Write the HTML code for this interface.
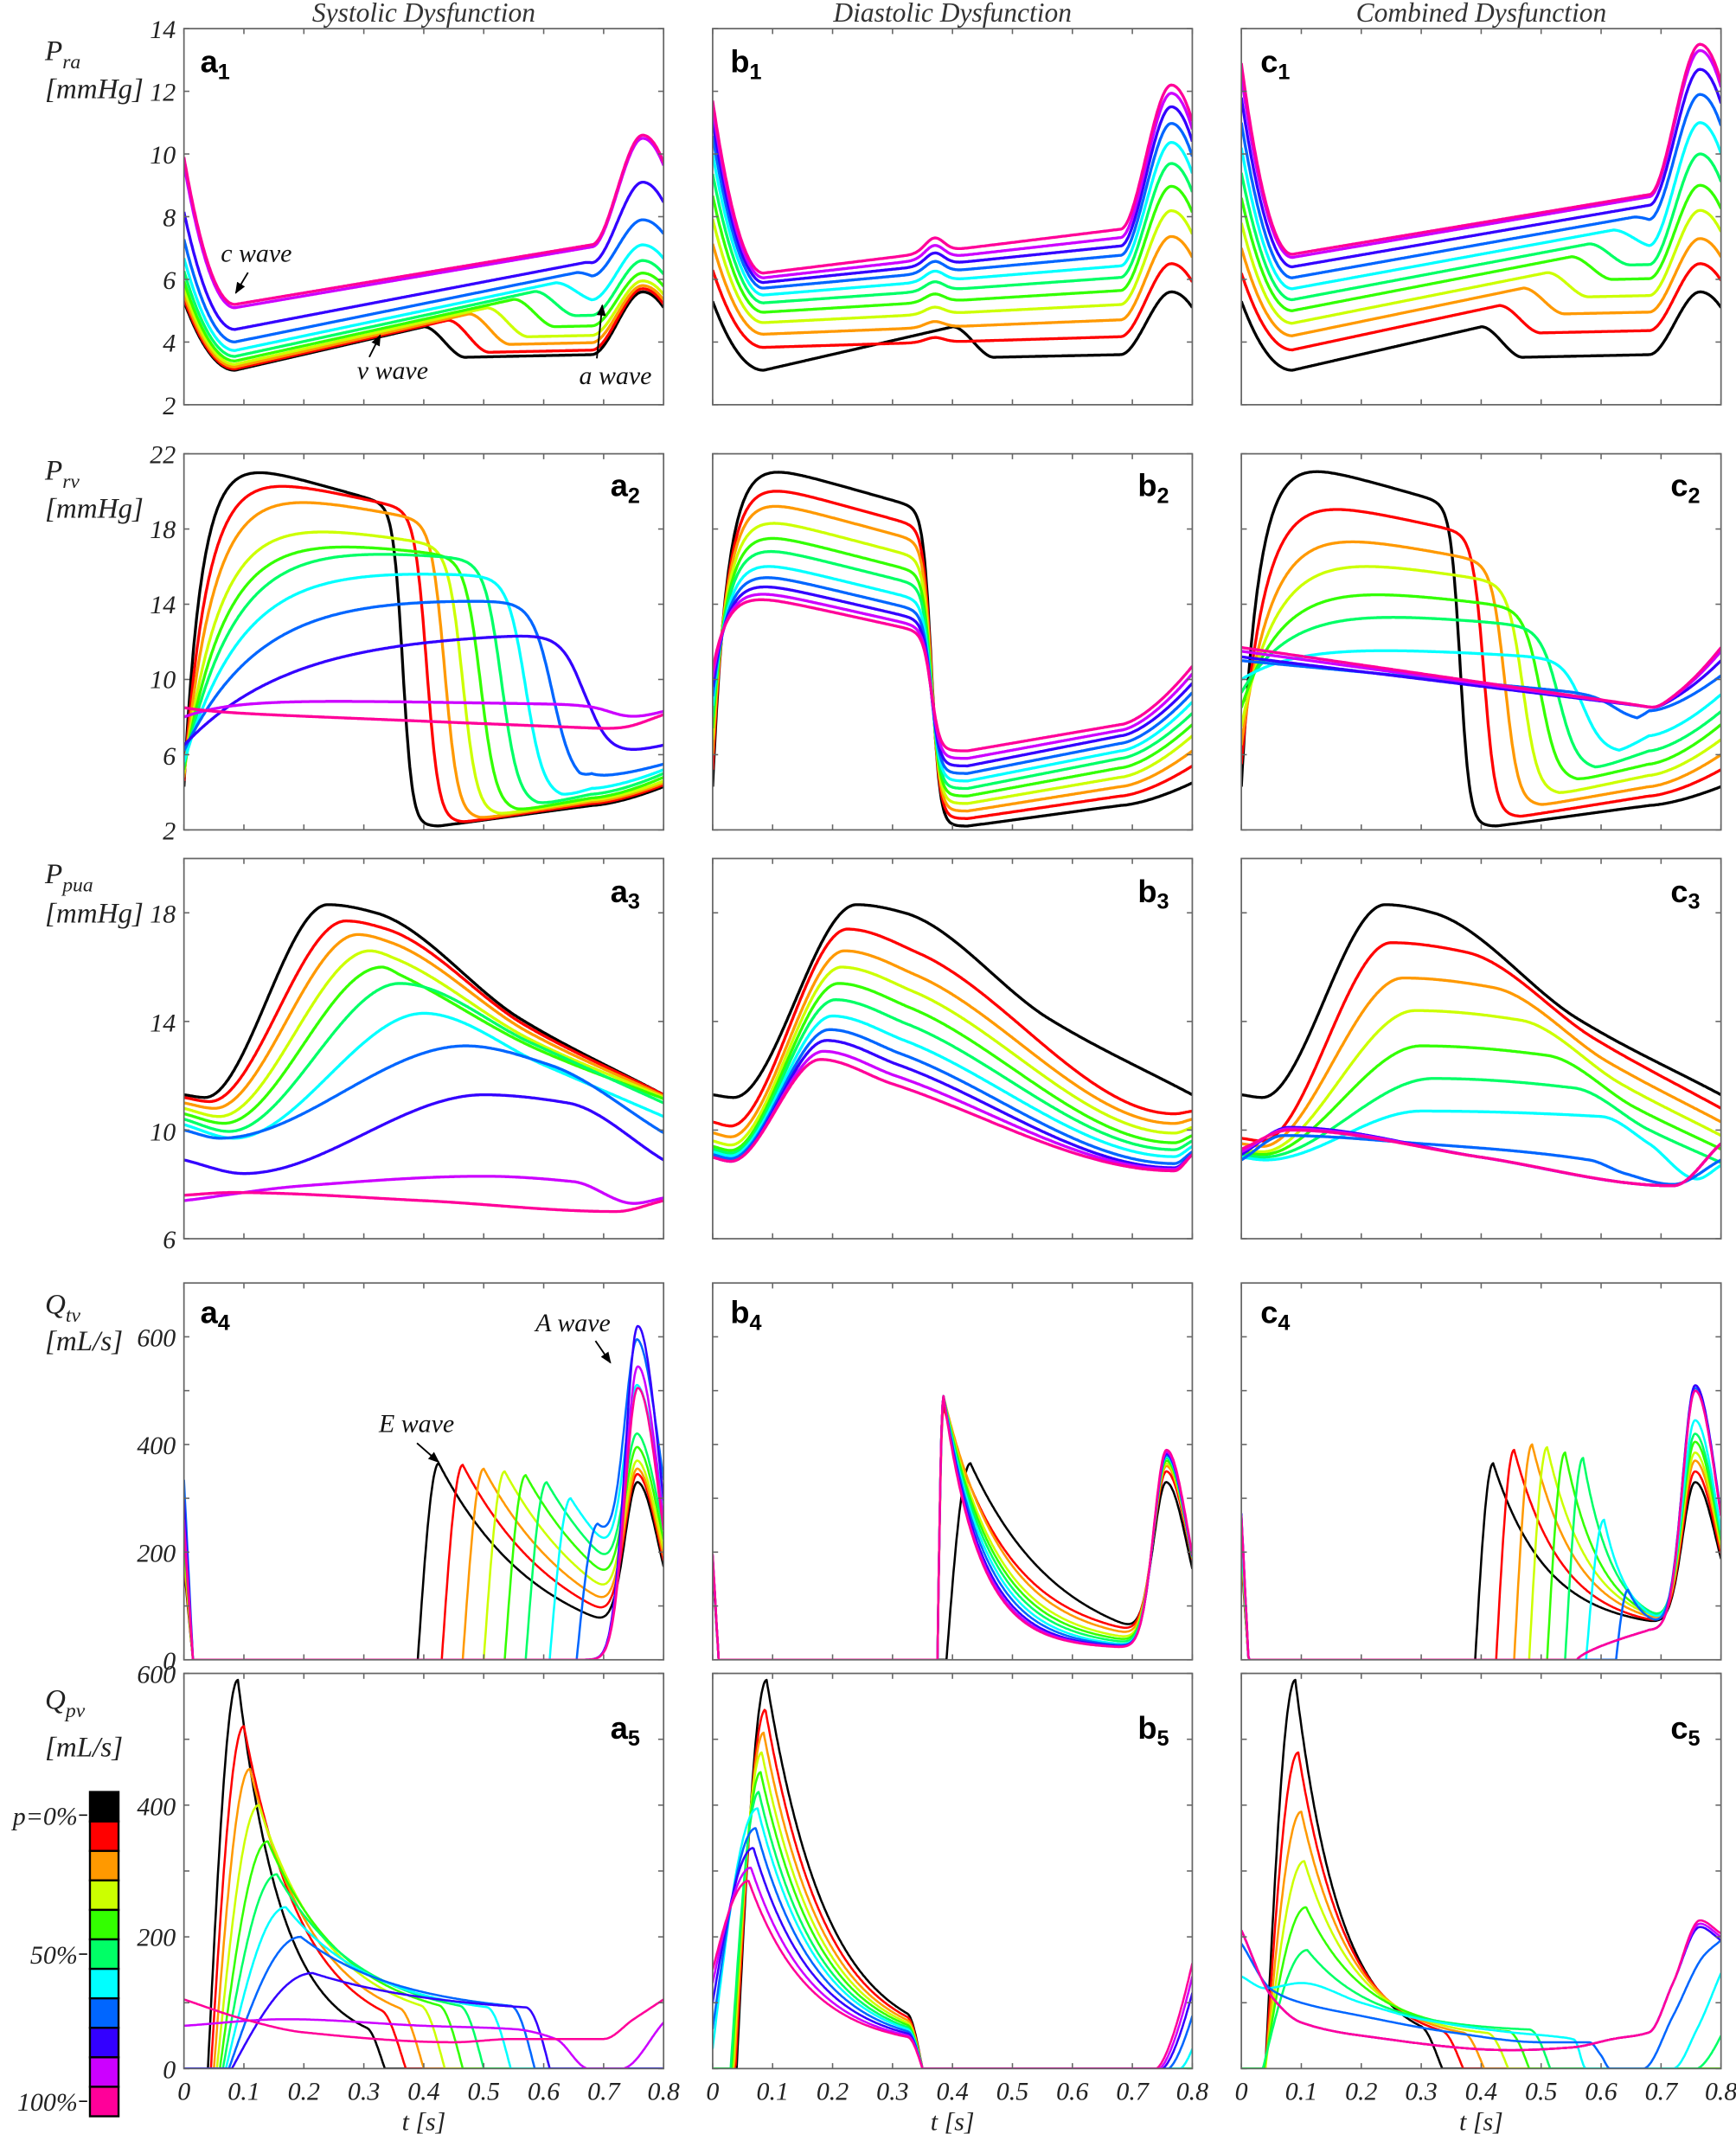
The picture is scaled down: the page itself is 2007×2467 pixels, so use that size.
<!DOCTYPE html>
<html><head><meta charset="utf-8">
<style>
html,body{margin:0;padding:0;background:#fff;}
svg{display:block;}
.tl{font-family:"Liberation Serif",serif;font-style:italic;font-size:19px;fill:#222;}
.yl{font-family:"Liberation Serif",serif;font-style:italic;font-size:21px;fill:#222;}
.ti{font-family:"Liberation Serif",serif;font-style:italic;font-size:20px;fill:#333;}
.pl{font-family:"Liberation Sans",sans-serif;font-weight:bold;font-size:23px;fill:#000;}
.an{font-family:"Liberation Serif",serif;font-style:italic;font-size:19px;fill:#111;}
</style></head><body>
<svg id="s" width="2007" height="2467" viewBox="0 0 1274 1566" preserveAspectRatio="none" xmlns="http://www.w3.org/2000/svg">
<defs>
<marker id="ah" viewBox="0 0 10 10" refX="9" refY="5" markerWidth="7" markerHeight="7" orient="auto"><path d="M0,1 L10,5 L0,9 z" fill="#000"/></marker>
</defs>
<rect width="1274" height="1566" fill="#fff"/>
<g id="curves"></g>
<g id="frames"></g>
<!-- titles -->
<text class="ti" x="311" y="16" text-anchor="middle">Systolic Dysfunction</text>
<text class="ti" x="699" y="16" text-anchor="middle">Diastolic Dysfunction</text>
<text class="ti" x="1087" y="16" text-anchor="middle">Combined Dysfunction</text>
<!-- y labels -->
<text class="yl" x="33" y="44">P<tspan font-size="15" dy="6">ra</tspan></text>
<text class="yl" x="33" y="72">[mmHg]</text>
<text class="yl" x="33" y="352">P<tspan font-size="15" dy="6">rv</tspan></text>
<text class="yl" x="33" y="380">[mmHg]</text>
<text class="yl" x="33" y="648">P<tspan font-size="15" dy="6">pua</tspan></text>
<text class="yl" x="33" y="677">[mmHg]</text>
<text class="yl" x="33" y="964">Q<tspan font-size="15" dy="6">tv</tspan></text>
<text class="yl" x="33" y="991">[mL/s]</text>
<text class="yl" x="33" y="1254">Q<tspan font-size="15" dy="6">pv</tspan></text>
<text class="yl" x="33" y="1289">[mL/s]</text>
<!-- tick labels -->
<g class="tl" text-anchor="end">
<text x="129" y="28">14</text><text x="129" y="74">12</text><text x="129" y="120">10</text><text x="129" y="166">8</text><text x="129" y="212">6</text><text x="129" y="258">4</text><text x="129" y="304">2</text>
<text x="129" y="340">22</text><text x="129" y="395">18</text><text x="129" y="450">14</text><text x="129" y="505">10</text><text x="129" y="561">6</text><text x="129" y="616">2</text>
<text x="129" y="677">18</text><text x="129" y="757">14</text><text x="129" y="837">10</text><text x="129" y="916">6</text>
<text x="129" y="988">600</text><text x="129" y="1067">400</text><text x="129" y="1146">200</text><text x="129" y="1225">0</text>
<text x="129" y="1235">600</text><text x="129" y="1332">400</text><text x="129" y="1428">200</text><text x="129" y="1525">0</text>
</g>
<g class="tl" text-anchor="middle">
<text x="135" y="1541">0</text><text x="179" y="1541">0.1</text><text x="223" y="1541">0.2</text><text x="267" y="1541">0.3</text><text x="311" y="1541">0.4</text><text x="355" y="1541">0.5</text><text x="399" y="1541">0.6</text><text x="443" y="1541">0.7</text><text x="487" y="1541">0.8</text>
<text x="523" y="1541">0</text><text x="567" y="1541">0.1</text><text x="611" y="1541">0.2</text><text x="655" y="1541">0.3</text><text x="699" y="1541">0.4</text><text x="743" y="1541">0.5</text><text x="787" y="1541">0.6</text><text x="831" y="1541">0.7</text><text x="875" y="1541">0.8</text>
<text x="911" y="1541">0</text><text x="955" y="1541">0.1</text><text x="999" y="1541">0.2</text><text x="1043" y="1541">0.3</text><text x="1087" y="1541">0.4</text><text x="1131" y="1541">0.5</text><text x="1175" y="1541">0.6</text><text x="1219" y="1541">0.7</text><text x="1263" y="1541">0.8</text>
<text x="311" y="1563">t [s]</text><text x="699" y="1563">t [s]</text><text x="1087" y="1563">t [s]</text>
</g>
<!-- panel labels -->
<text class="pl" x="147" y="53">a<tspan font-size="16" dy="5">1</tspan></text>
<text class="pl" x="536" y="53">b<tspan font-size="16" dy="5">1</tspan></text>
<text class="pl" x="925" y="53">c<tspan font-size="16" dy="5">1</tspan></text>
<text class="pl" x="448" y="364">a<tspan font-size="16" dy="5">2</tspan></text>
<text class="pl" x="835" y="364">b<tspan font-size="16" dy="5">2</tspan></text>
<text class="pl" x="1226" y="364">c<tspan font-size="16" dy="5">2</tspan></text>
<text class="pl" x="448" y="662">a<tspan font-size="16" dy="5">3</tspan></text>
<text class="pl" x="835" y="662">b<tspan font-size="16" dy="5">3</tspan></text>
<text class="pl" x="1226" y="662">c<tspan font-size="16" dy="5">3</tspan></text>
<text class="pl" x="147" y="971">a<tspan font-size="16" dy="5">4</tspan></text>
<text class="pl" x="536" y="971">b<tspan font-size="16" dy="5">4</tspan></text>
<text class="pl" x="925" y="971">c<tspan font-size="16" dy="5">4</tspan></text>
<text class="pl" x="448" y="1276">a<tspan font-size="16" dy="5">5</tspan></text>
<text class="pl" x="835" y="1276">b<tspan font-size="16" dy="5">5</tspan></text>
<text class="pl" x="1226" y="1276">c<tspan font-size="16" dy="5">5</tspan></text>
<!-- annotations -->
<text class="an" x="162" y="192">c wave</text>
<line x1="182" y1="200" x2="173" y2="215" stroke="#000" stroke-width="1.2" marker-end="url(#ah)"/>
<text class="an" x="262" y="278">v wave</text>
<line x1="271" y1="262" x2="279" y2="246" stroke="#000" stroke-width="1.2" marker-end="url(#ah)"/>
<text class="an" x="425" y="282">a wave</text>
<line x1="438" y1="263" x2="442" y2="224" stroke="#000" stroke-width="1.2" marker-end="url(#ah)"/>
<text class="an" x="278" y="1051">E wave</text>
<line x1="306" y1="1059" x2="322" y2="1073" stroke="#000" stroke-width="1.2" marker-end="url(#ah)"/>
<text class="an" x="393" y="977">A wave</text>
<line x1="437" y1="984" x2="448" y2="1000" stroke="#000" stroke-width="1.2" marker-end="url(#ah)"/>
<!-- colorbar -->
<g id="cbar"></g>
<g class="tl" text-anchor="end">
<text x="57" y="1339">p=0%</text>
<text x="57" y="1441">50%</text>
<text x="57" y="1549">100%</text>
</g>
<line x1="58" y1="1332" x2="64" y2="1332" stroke="#000" stroke-width="1"/>
<line x1="58" y1="1434" x2="64" y2="1434" stroke="#000" stroke-width="1"/>
<line x1="58" y1="1542" x2="64" y2="1542" stroke="#000" stroke-width="1"/>
</svg>
<script>
(function(){
const C=['#000000','#ff0000','#ff9900','#ccff00','#33ff00','#00ff66','#00ffff','#0066ff','#3300ff','#cc00ff','#ff0099'];
const colX=[135,523,911],PW=352;
const rows=[{top:21,bot:297,min:2,max:14,tk:[2,4,6,8,10,12,14]},
{top:333,bot:609,min:2,max:22,tk:[2,6,10,14,18,22]},
{top:630,bot:909,min:6,max:20,tk:[6,10,14,18]},
{top:941.5,bot:1218,min:0,max:700,tk:[0,100,200,300,400,500,600]},
{top:1228,bot:1518,min:0,max:600,tk:[0,100,200,300,400,500,600]}];
const ss=(a,b,t)=>{let u=Math.min(1,Math.max(0,(t-a)/(b-a)));return u*u*(3-2*u);};
const E=Math.exp, PI=Math.PI;
function mono(pts){
 const n=pts.length,x=pts.map(p=>p[0]),y=pts.map(p=>p[1]);
 const d=[],m=[];
 for(let i=0;i<n-1;i++)d.push((y[i+1]-y[i])/(x[i+1]-x[i]));
 m[0]=d[0];m[n-1]=d[n-2];
 for(let i=1;i<n-1;i++){ if(d[i-1]*d[i]<=0)m[i]=0; else m[i]=2/(1/d[i-1]+1/d[i]); }
 return function(t){
  let i=0; while(i<n-2&&t>x[i+1])i++;
  const h=x[i+1]-x[i]; let s=(t-x[i])/h; s=Math.max(0,Math.min(1,s));
  const h00=2*s*s*s-3*s*s+1,h10=s*s*s-2*s*s+s,h01=-2*s*s*s+3*s*s,h11=s*s*s-s*s;
  return h00*y[i]+h10*h*m[i]+h01*y[i+1]+h11*h*m[i+1];
 };
}
// ---------- row 1
function praA(t,p){
 const t0=0.085;
 const base=tt=>{
  if(tt<t0){let u=1-tt/t0;return p.m+(p.s-p.m)*u*u;}
  let y=p.m+p.sl*(tt-t0);
  if(p.tv!=null&&tt>p.tv){y=p.m+p.sl*(p.tv-t0)-p.drop*ss(p.tv,p.tv+0.07,tt)+0.4*(tt-p.tv);}
  if(p.bump)y+=p.bump*E(-Math.pow((tt-0.37)/0.022,2));
  return y;};
 if(t<=0.68)return base(t);
 const b=base(0.68);
 const g=t<0.765?ss(0.68,0.765,t):1-0.25*Math.pow((t-0.765)/0.035,2);
 return b+(p.A-b)*g;
}
const wA=[0,.02,.05,.09,.14,.21,.3,.43,.62,.95,1];
const tvA=[0.40,0.44,0.475,0.505,0.55,0.585,0.62,0.655,0.67,null,null];
const dropA=[1.0,1.05,1.0,0.95,0.9,0.8,0.6,0.4,0.25,0,0];
const AA=[5.6,5.7,5.8,5.95,6.2,6.6,7.1,7.9,9.1,10.5,10.6];
const pA1=k=>({s:5.3+4.6*wA[k],m:3.1+2.1*wA[k],sl:4.4-1.2*wA[k],tv:tvA[k],drop:dropA[k],A:AA[k],bump:0});
const mb=[3.1,3.83,4.25,4.62,4.95,5.25,5.5,5.72,5.9,6.05,6.2];
function pB1(k){ if(k==0)return pA1(0); const u=(k-1)/9; const A=6.5+5.7*(1-Math.pow(1-u,1.4));
 return {s:A-0.2-0.3*u,m:mb[k],sl:(0.34+1.06*u)/0.595,tv:null,drop:0,A:A,bump:0.3*(0.5+u)}; }
const c1m=[3.1,3.75,4.2,4.6,5.0,5.35,5.7,6.05,6.4,6.7,6.8],c1s=[5.3,6.2,7.0,7.8,8.6,9.4,10.2,11,11.8,12.5,12.9],
 c1sl=[4.4,4.1,3.95,3.8,3.7,3.6,3.5,3.4,3.3,3.25,3.2],c1tv=[0.4,0.43,0.47,0.51,0.55,0.58,0.62,0.655,null,null,null],
 c1d=[1.0,0.9,0.85,0.8,0.75,0.7,0.55,0.3,0,0,0],c1A=[5.6,6.5,7.3,8.2,9.0,10.0,11.0,11.9,12.7,13.3,13.5];
const pC1=k=>({s:c1s[k],m:c1m[k],sl:c1sl[k],tv:c1tv[k],drop:c1d[k],A:c1A[k],bump:0});
// ---------- row 2
function prv(t,p){
 const S=p.s+(p.asym-p.s)*(1-E(-t/p.tau))-p.droop*t;
 let e; if(t<p.tmn)e=p.mn; else if(t<0.68)e=p.mn+(p.v68-p.mn)*(t-p.tmn)/(0.68-p.tmn); else e=p.v68+(p.end-p.v68)*Math.pow((t-0.68)/0.12,1.5);
 const f=1/(1+E((t-p.td)/p.w)); return e*(1-f)+S*f;
}
const a2={s:[4.3,4.6,4.8,5.0,5.2,5.4,5.6,6.2,6.5,8.0,8.5],tau:[0.03,0.04,0.05,0.06,0.07,0.085,0.1,0.13,0.18,0.08,0.05],
 asym:[22.4,21.7,20.9,19.3,18.4,17.9,16.6,15.1,12.6,9.0,8.3],droop:[9,7,6,5,4,3,2,1.5,0,0.5,1.3],
 td:[0.365,0.405,0.435,0.465,0.495,0.53,0.57,0.615,0.67,0.72,0.75],w:[0.008,0.01,0.011,0.012,0.013,0.014,0.015,0.017,0.02,0.02,0.02],
 mn:[2.2,2.4,2.6,2.8,3.0,3.3,3.7,4.4,5.6,7.4,7.4],v68:[3.3,3.4,3.5,3.6,3.7,3.9,4.2,4.8,5.9,7.6,7.5],end:[4.3,4.4,4.5,4.6,4.8,5.0,5.2,5.5,6.5,8.3,8.2]};
function pA2(k){const p={};for(const key in a2)p[key]=a2[key][k];p.tmn=Math.min(p.td+0.06,0.66);return p;}
const b2s=[4.3,5.2,6,6.8,7.4,8,8.6,9.1,9.6,10.1,10.5],b2P=[21,20,19.2,18.3,17.5,16.8,16,15.4,14.9,14.5,14.2],
 b2mn=[2.2,2.6,3.0,3.4,3.8,4.2,4.6,5.0,5.4,5.8,6.2],b2v=[3.3,3.8,4.3,4.8,5.3,5.8,6.2,6.6,7.0,7.3,7.6];
function asymFor(s,P,tp,tau,droop){return s+(P+droop*tp-s)/(1-E(-tp/tau));}
function pB2(k){const dr=9-2*k/10,tau=0.025;return {s:b2s[k],tau:tau,droop:dr,asym:asymFor(b2s[k],b2P[k],0.1,tau,dr),
 td:0.365,w:0.007,mn:b2mn[k],tmn:0.425,v68:b2v[k],end:b2s[k]+0.2};}
const c2s=[4.3,5.5,6.5,7.5,8.5,9.3,10,11,11.2,11.5,11.7],c2P=[21,19,17.3,16,14.5,13.3,11.5],c2tp=[0.11,0.14,0.17,0.2,0.23,0.26,0.3],
 c2tau=[0.03,0.04,0.05,0.06,0.07,0.085,0.1],c2dr=[9,7,6,5,4,3,2],
 c2td=[0.365,0.405,0.44,0.47,0.5,0.53,0.57,0.625,0.69,0.69,0.69],
 c2mn=[2.2,2.7,3.3,3.9,4.6,5.2,6.1,7.8,8.5,8.5,8.5],c2v=[3.3,3.8,4.3,4.9,5.5,6.2,7.0,8.3,8.5,8.5,8.5],c2e=[4.3,5.2,6.0,6.8,7.6,8.3,9.2,10.2,11,11.5,11.7];
function pC2(k){let p={s:c2s[k],td:c2td[k],w:k<8?0.008+0.0015*k:0.008,mn:c2mn[k],tmn:Math.min(c2td[k]+0.06,0.66),v68:c2v[k],end:c2e[k]};
 if(k<=6){p.tau=c2tau[k];p.droop=c2dr[k];p.asym=asymFor(p.s,c2P[k],c2tp[k],p.tau,p.droop);}
 else if(k==7){p.tau=0.05;p.asym=11;p.droop=3;}
 else {p.tau=0.05;p.asym=p.s;p.droop=(p.s-8.5)/0.69;}
 return p;}
// ---------- row 3
const a3s=[11.3,11.2,11.0,10.8,10.6,10.4,10.2],a3dip=[0.1,0.15,0.2,0.3,0.35,0.45,0.5],
 a3tp=[0.24,0.27,0.29,0.31,0.33,0.36,0.4],a3P=[18.3,17.7,17.2,16.6,16.0,15.4,14.3],a3e=[11.3,11.3,11.25,11.2,11.15,11.0,10.5];
function a3pts(k){
 if(k==7)return [[0,10.0],[0.06,9.7],[0.47,13.1],[0.61,12.4],[0.8,9.9]];
 if(k==8)return [[0,8.9],[0.1,8.4],[0.5,11.3],[0.64,11.0],[0.8,8.9]];
 if(k==9)return [[0,7.4],[0.2,7.95],[0.5,8.3],[0.65,8.1],[0.75,7.3],[0.8,7.5]];
 if(k==10)return [[0,7.6],[0.08,7.7],[0.4,7.4],[0.72,7.0],[0.8,7.4]];
 const s=a3s[k];const pts=[[0,s],[0.035+0.008*k,s-a3dip[k]],[a3tp[k],a3P[k]]];
 if(k<=4)pts.push([a3tp[k]+0.08-0.012*k,a3P[k]-0.3]);
 const l=pts[pts.length-1],e=a3e[k];
 pts.push([(l[0]+0.8)/2,e+(l[1]-e)*(k<5?0.42:0.5)]);pts.push([0.8,e]);return pts;}
const b3s=[11.3,10.3,9.9,9.6,9.4,9.3,9.2,9.1,9.0,9.0,9.0],b3P=[18.3,17.4,16.6,16.0,15.4,14.8,14.2,13.7,13.3,12.9,12.6],
 b3e=[11.3,10.7,10.4,10.1,9.8,9.6,9.4,9.2,9.1,9.1,9.1];
function b3pts(k){ if(k==0)return a3pts(0); const u=(k-1)/9,tp=0.23-0.005*k;
 return [[0,b3s[k]],[0.03,b3s[k]-0.15],[tp,b3P[k]],[tp+0.12,b3P[k]-0.9],[0.77,b3e[k]-0.1-0.5*u],[0.8,b3e[k]]];}
const c3s=[11.3,9.7,9.5,9.3,9.2,9.1],c3P=[18.3,16.9,15.6,14.4,13.1,11.9],c3tp=[0.24,0.25,0.27,0.29,0.3,0.32],c3e=[11.3,10.8,10.3,9.8,9.3,8.8];
function c3pts(k){ if(k==0)return a3pts(0);
 if(k==6)return [[0,9.0],[0.04,8.9],[0.3,10.7],[0.6,10.5],[0.68,9.5],[0.76,8.2],[0.8,8.7]];
 if(k==7)return [[0,8.9],[0.07,9.8],[0.3,9.5],[0.58,8.9],[0.64,8.4],[0.72,8.0],[0.8,8.9]];
 if(k>=8)return [[0,9.1+0.1*(k-8)],[0.08,10.1-0.05*(k-8)],[0.4,9.0],[0.72,7.95],[0.8,9.5]];
 const tk=0.33+0.045*k,P=c3P[k],e=c3e[k];
 return [[0,c3s[k]],[0.035,c3s[k]-0.1],[c3tp[k],P],[tk,P-0.35],[(tk+0.8)/2,e+(P-0.35-e)*0.45],[0.8,e]];}
// ---------- row 4
function qcore(t,p){
 let e=0;
 if(p.on!=null&&t>=p.on){const d=t-p.on; e=d<p.tr?p.Ep*Math.sin(PI/2*d/p.tr):p.fl+(p.Ep-p.fl)*E(-(d-p.tr)/p.tau);}
 if(p.ramp&&t>0.56)e=55*Math.pow(Math.min(1,(t-0.56)/0.12),0.7);
 return e;}
function qtv(t,p){
 const e757=qcore(0.757,p),amp=p.A-e757;
 const f=tt=>{let e=qcore(tt,p);if(tt>0.66){const w=tt<0.757?0.03:0.05;e+=amp*E(-Math.pow((tt-0.757)/w,2));}return e;};
 if(t<p.t0){const s0=f(0.8);return s0*(1-t/p.t0);} return f(t);}
const a4on=[0.39,0.43,0.465,0.5,0.535,0.57,0.61,0.655],a4Ep=[365,362,355,350,343,330,300,250],a4A=[330,345,355,370,395,420,510,595,620,545,505];
const pA4=k=>({t0:0.015,on:k<8?a4on[k]:null,Ep:a4Ep[k],tr:0.035,tau:0.17,fl:0,A:a4A[k]});
const b4tau=[0.15,0.11,0.1,0.09,0.085,0.08,0.075,0.07,0.065,0.062,0.06],b4fl=[0,30,28,26,24,22,20,20,20,20,20];
const pB4=k=>({t0:0.01,on:k==0?0.39:0.375,Ep:k==0?365:(k==1?470:490),tr:k==0?0.04:0.01,tau:b4tau[k],fl:b4fl[k],A:[330,350,360,365,370,375,378,380,383,386,390][k]});
const c4on=[0.39,0.425,0.455,0.48,0.51,0.54,0.575,0.625],c4Ep=[365,390,400,395,385,375,260,130],c4tau=[0.09,0.08,0.075,0.07,0.06,0.05,0.04,0.03];
const pC4=k=>({t0:0.012,on:k<8?c4on[k]:null,Ep:c4Ep[k],tr:k==7?0.02:0.03,tau:c4tau[k],fl:55,ramp:k>=8,A:[330,350,370,385,405,420,445,505,510,500,500][k]});
// ---------- row 5
function qpv(t,p){
 if(p.pts)return Math.max(0,p.f(t));
 let y=0;
 if(p.s0>0&&t<p.tp)y=p.s0+(p.Pk-p.s0)*Math.sin(PI/2*t/p.tp);
 else if(t>=p.on&&t<p.tp)y=p.Pk*Math.sin(PI/2*(t-p.on)/(p.tp-p.on));
 else if(t>=p.tp)y=p.base+(p.Pk-p.base)*E(-(t-p.tp)/p.tau);
 if(t>p.tz)y=0;else if(t>p.tz-p.dz)y*=Math.cos(PI/2*(t-(p.tz-p.dz))/p.dz);
 if(p.aOn!=null&&t>p.aOn)y+=p.aEnd*Math.pow((t-p.aOn)/(0.8-p.aOn),1.5);
 return y;}
function P5(pts){return {pts:true,f:mono(pts)};}
function pA5(k){
 if(k==9)return P5([[0,65],[0.17,75],[0.4,65],[0.55,60],[0.62,45],[0.675,0],[0.73,0],[0.8,70]]);
 if(k==10)return P5([[0,105],[0.1,75],[0.2,55],[0.45,40],[0.55,45],[0.7,45],[0.75,75],[0.8,105]]);
 return {s0:0,on:[0.04,0.045,0.05,0.055,0.06,0.065,0.07,0.075,0.08][k],tp:[0.09,0.1,0.11,0.125,0.14,0.155,0.17,0.195,0.215][k],
  Pk:[590,520,455,400,345,295,245,200,145][k],tau:[0.075,0.1,0.11,0.12,0.13,0.14,0.15,0.17,0.22][k],
  base:[30,40,50,60,65,70,75,80,80][k],tz:[0.335,0.37,0.4,0.435,0.465,0.5,0.545,0.585,0.61][k],dz:k==0?0.03:0.04,aOn:null};}
function pB5(k){
 const s0=[0,0,0,0,0,0,30,60,100,130,150][k];
 return {s0:s0,on:[0.04,0.038,0.036,0.034,0.032,0.03,0.028,0.026,0.024,0.022,0.02][k],tp:[0.09,0.088,0.085,0.082,0.08,0.077,0.075,0.072,0.068,0.064,0.06][k],
  Pk:[590,545,510,480,450,420,395,365,335,305,285][k],tau:0.1,base:30,tz:0.35,dz:0.025,
  aOn:[null,null,null,null,null,null,0.78,0.76,0.75,0.745,0.74][k],aEnd:[0,0,0,0,0,0,30,80,115,140,160][k]};}
function pC5(k){
 if(k==6)return P5([[0,140],[0.04,122],[0.1,130],[0.2,100],[0.3,75],[0.45,55],[0.53,48],[0.555,44],[0.575,0],[0.72,0],[0.76,60],[0.8,145]]);
 if(k==7)return P5([[0,190],[0.05,120],[0.1,100],[0.2,80],[0.35,55],[0.5,40],[0.58,40],[0.6,20],[0.615,0],[0.67,0],[0.72,80],[0.77,170],[0.8,195]]);
 if(k>=8){const a=215+5*(k-8);return P5([[0,210],[0.05,110],[0.1,70],[0.2,50],[0.45,28],[0.55,32],[0.62,45],[0.68,55],[0.72,130],[0.765,a],[0.8,a-20]]);}
 return {s0:0,on:[0.04,0.04,0.04,0.04,0.038,0.036][k],tp:[0.09,0.095,0.1,0.105,0.108,0.11][k],Pk:[590,480,390,315,245,180][k],
  tau:[0.075,0.08,0.085,0.09,0.1,0.11][k],base:[30,35,40,45,50,55][k],tz:[0.335,0.37,0.405,0.445,0.48,0.515][k],dz:0.035,
  aOn:k==5?0.76:null,aEnd:k==5?50:0};}
// ---------- panels
const panels=[
 [0,0,k=>{const p=pA1(k);return t=>praA(t,p);}],
 [0,1,k=>{const p=pB1(k);return t=>praA(t,p);}],
 [0,2,k=>{const p=pC1(k);return t=>praA(t,p);}],
 [1,0,k=>{const p=pA2(k);return t=>prv(t,p);}],
 [1,1,k=>{const p=pB2(k);return t=>prv(t,p);}],
 [1,2,k=>{const p=pC2(k);return t=>prv(t,p);}],
 [2,0,k=>mono(a3pts(k))],
 [2,1,k=>mono(b3pts(k))],
 [2,2,k=>mono(c3pts(k))],
 [3,0,k=>{const p=pA4(k);return t=>qtv(t,p);}],
 [3,1,k=>{const p=pB4(k);return t=>qtv(t,p);}],
 [3,2,k=>{const p=pC4(k);return t=>qtv(t,p);}],
 [4,0,k=>{const p=pA5(k);return t=>qpv(t,p);}],
 [4,1,k=>{const p=pB5(k);return t=>qpv(t,p);}],
 [4,2,k=>{const p=pC5(k);return t=>qpv(t,p);}]
];
let cur='',fr='',defs='';
panels.forEach((pn,i)=>{
 const r=rows[pn[0]],x0=colX[pn[1]];
 const sy=(r.bot-r.top)/(r.max-r.min);
 defs+=`<clipPath id="cp${i}"><rect x="${x0}" y="${r.top}" width="${PW}" height="${r.bot-r.top}"/></clipPath>`;
 let g=`<g clip-path="url(#cp${i})" fill="none" stroke-linejoin="round" stroke-width="${pn[0]<3?2.1:1.6}">`;
 for(let k=0;k<11;k++){
  let f; try{f=pn[2](k);}catch(e){continue;}
  let d='';const N=480;
  for(let j=0;j<=N;j++){const t=0.8*j/N;let y=f(t);if(!isFinite(y))y=r.min;
   if(pn[0]>=3&&y<0)y=0;
   const X=x0+t*440,Y=r.bot-(y-r.min)*sy;d+=(j?'L':'M')+X.toFixed(1)+','+Y.toFixed(1);}
  g+=`<path d="${d}" stroke="${C[k]}"/>`;
 }
 cur+=g+'</g>';
 fr+=`<rect x="${x0}" y="${r.top}" width="${PW}" height="${r.bot-r.top}" fill="none" stroke="#666" stroke-width="1.1"/>`;
 for(let v=0;v<=8;v++){const X=x0+v*44;fr+=`<line x1="${X}" y1="${r.bot}" x2="${X}" y2="${r.bot-4}" stroke="#666"/><line x1="${X}" y1="${r.top}" x2="${X}" y2="${r.top+4}" stroke="#666"/>`;}
 r.tk.forEach(v=>{const Y=r.bot-(v-r.min)*sy;fr+=`<line x1="${x0}" y1="${Y}" x2="${x0+4}" y2="${Y}" stroke="#666"/><line x1="${x0+PW}" y1="${Y}" x2="${x0+PW-4}" y2="${Y}" stroke="#666"/>`;});
});
const svg=document.getElementById('s');
const dd=document.createElementNS('http://www.w3.org/2000/svg','defs');dd.innerHTML=defs;svg.insertBefore(dd,svg.firstChild);
document.getElementById('curves').innerHTML=cur;
document.getElementById('frames').innerHTML=fr;
let cb='';const h=(1553-1315)/11;
for(let k=0;k<11;k++)cb+=`<rect x="66" y="${1315+k*h}" width="21" height="${h}" fill="${C[k]}" stroke="#000" stroke-width="1.5"/>`;
document.getElementById('cbar').innerHTML=cb;
})();
</script>
</body></html>
